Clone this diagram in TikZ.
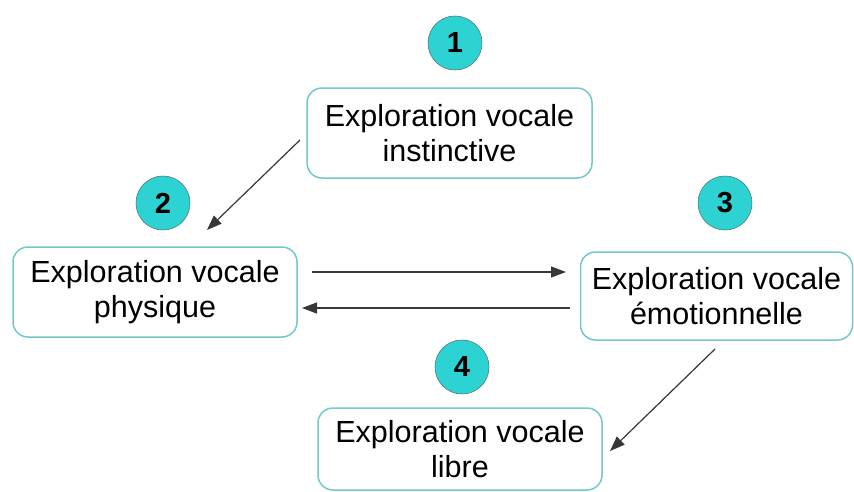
\documentclass[tikz,border=0pt]{standalone}
\usepackage{fontspec}
\setmainfont{Liberation Sans}
\usetikzlibrary{arrows.meta}
\definecolor{boxcol}{RGB}{115,200,200}
\definecolor{circfill}{RGB}{45,210,210}
\definecolor{circline}{RGB}{80,125,125}
\definecolor{arrcol}{RGB}{55,55,55}
\tikzset{
  stagebox/.style={draw=boxcol, line width=1.5pt, rounded corners=15pt, fill=white,
    align=center, font=\fontsize{30.5}{35}\selectfont, inner sep=0pt},
  numcirc/.style={circle, fill=circfill, draw=circline, line width=0.6pt,
    minimum size=54pt, inner sep=0pt, font=\fontsize{29}{29}\selectfont\bfseries},
  flow/.style={draw=arrcol, line width=1.2pt, -{Triangle[length=15pt,width=11pt]}}
}
\begin{document}
\begin{tikzpicture}[x=1pt,y=-1pt]
\useasboundingbox (0,0) rectangle (854,491);
\clip (0,0) rectangle (854,491);
\node[stagebox, minimum width=285pt, minimum height=90pt] (b1) at (449.5,133) {Exploration vocale\\instinctive};
\node[stagebox, minimum width=284pt, minimum height=90pt] (b2) at (155,292) {Exploration vocale\\physique};
\node[stagebox, minimum width=272pt, minimum height=88pt] (b3) at (716.5,296) {Exploration vocale\\émotionnelle};
\node[stagebox, minimum width=284pt, minimum height=82pt] (b4) at (460,449) {Exploration vocale\\libre};
\node[numcirc] (c1) at (455,43) {1};
\node[numcirc] (c2) at (163,203) {2};
\node[numcirc] (c3) at (725,203) {3};
\node[numcirc] (c4) at (462,367) {4};
\coordinate (s12) at (300,140);
\coordinate (e12) at (207,230);
\coordinate (s23) at (312,272);
\coordinate (e23) at (566,272);
\coordinate (s32) at (570,308);
\coordinate (e32) at (302,308);
\coordinate (s34) at (715,349);
\coordinate (e34) at (610,451);
\draw[flow] (s12) -- (e12);
\draw[flow] (s23) -- (e23);
\draw[flow] (s32) -- (e32);
\draw[flow] (s34) -- (e34);
\end{tikzpicture}
\end{document}
